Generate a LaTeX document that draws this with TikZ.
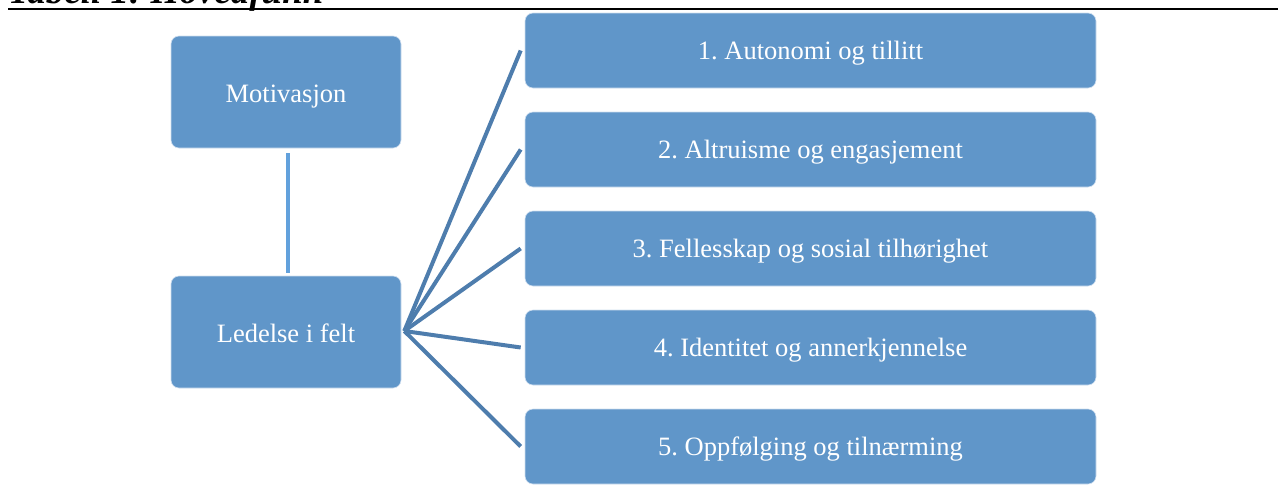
\documentclass[tikz,border=0pt]{standalone}
\usepackage{fontspec}
\setmainfont{Liberation Serif}
\frenchspacing
\definecolor{boxfill}{HTML}{6096C9}
\definecolor{fanline}{HTML}{4E7DAD}
\definecolor{vline}{HTML}{62A1DC}
\tikzset{
  boxbase/.style={rectangle, rounded corners=8pt, fill=boxfill, draw=white!70!boxfill, line width=0.6pt,
    text=white, font=\fontsize{26.5}{30}\selectfont\frenchspacing, inner sep=0pt, text depth=0pt},
  leftbox/.style={boxbase, minimum width=230pt, minimum height=112pt, text height=20.6pt},
  rightbox/.style={boxbase, minimum width=571pt, minimum height=75pt, text height=17.6pt},
  fan/.style={draw=fanline, line width=4pt},
  vconn/.style={draw=vline, line width=4.7pt},
}
\begin{document}
\begin{tikzpicture}[x=1pt,y=-1pt]
\useasboundingbox (0,0) rectangle (1278,485);
\node[anchor=base west, inner sep=0pt, font=\fontsize{37}{40}\selectfont\bfseries\itshape] (title) at (8,3) {Tabell 1: Hovedfunn};
\coordinate (hl) at (8,9.3);
\coordinate (hr) at (1280,9.3);
\draw[line width=2.2pt] (hl) -- (hr);

\node[leftbox] (mot) at (286,92) {Motivasjon};
\node[leftbox] (led) at (286,332) {Ledelse i felt};

\node[rightbox] (r1) at (810.5,50.5) {1. Autonomi og tillitt};
\node[rightbox] (r2) at (810.5,149.5) {2. Altruisme og engasjement};
\node[rightbox] (r3) at (810.5,248.5) {3. Fellesskap og sosial tilhørighet};
\node[rightbox] (r4) at (810.5,347.5) {4. Identitet og annerkjennelse};
\node[rightbox] (r5) at (810.5,446.5) {5. Oppfølging og tilnærming};

\draw[vconn] ([xshift=2pt,yshift=-5pt]mot.south) -- ([xshift=2pt,yshift=3pt]led.north);
\foreach \r in {r1,r2,r3,r4,r5}
  \draw[fan] ([xshift=3pt,yshift=1pt]led.east) -- ([xshift=-4pt]\r.west);
\end{tikzpicture}
\end{document}
